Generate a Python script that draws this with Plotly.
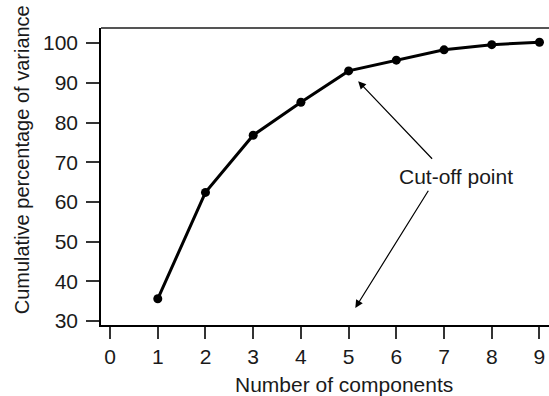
import plotly.graph_objects as go

components = [1, 2, 3, 4, 5, 6, 7, 8, 9]
cum_variance = [35.6, 62.4, 76.8, 85.1, 93.0, 95.7, 98.3, 99.6, 100.2]
x_ticks = [0, 1, 2, 3, 4, 5, 6, 7, 8, 9]
y_ticks = [30, 40, 50, 60, 70, 80, 90, 100]

FONT = "Liberation Sans, Arial, Helvetica, sans-serif"
FS = 21

fig = go.Figure()
fig.add_trace(go.Scatter(
    x=components, y=cum_variance, mode="lines+markers",
    line=dict(color="black", width=3),
    marker=dict(color="black", size=9),
    showlegend=False, hoverinfo="skip",
))

fig.update_layout(
    width=549, height=396,
    margin=dict(l=101, r=0, t=28, b=71),
    paper_bgcolor="white", plot_bgcolor="white",
    font=dict(family=FONT, size=FS, color="#1a1a1a"),
    xaxis=dict(
        range=[-0.19, 9.2], tickvals=x_ticks, ticks="outside", ticklen=12,
        tickwidth=1.5, tickcolor="#333", showline=True, linecolor="black",
        linewidth=1.5, showgrid=False, zeroline=False, fixedrange=True,
        tickfont=dict(size=FS), automargin=False,
    ),
    yaxis=dict(
        range=[29.0, 103.8], tickvals=y_ticks, ticks="outside", ticklen=13,
        tickwidth=1.5, tickcolor="#333", showline=True, linecolor="black",
        linewidth=1.5, showgrid=False, zeroline=False, fixedrange=True,
        tickfont=dict(size=FS), automargin=False, ticklabelstandoff=4,
    ),
    shapes=[dict(type="line", xref="paper", yref="paper", x0=0, x1=1, y0=1, y1=1,
                 line=dict(color="#555", width=2))],
)

annotations = [
    dict(text="Number of components", xref="x", yref="paper", x=4.91, y=-0.156,
         xanchor="center", yanchor="top", showarrow=False, font=dict(size=FS)),
    dict(text="Cumulative percentage of variance", xref="paper", yref="paper",
         x=-0.176, y=0.555, xanchor="center", yanchor="middle", textangle=-90,
         showarrow=False, font=dict(size=20)),
    dict(text="Cut-off point", xref="x", yref="y", x=7.26, y=66.5,
         xanchor="center", yanchor="middle", showarrow=False, font=dict(size=FS)),
    dict(text="", xref="x", yref="y", x=5.20, y=90.4, axref="x", ayref="y",
         ax=6.78, ay=70.5, showarrow=True, arrowhead=2, arrowsize=1.3,
         arrowwidth=1.2, arrowcolor="black", standoff=0, startstandoff=0),
    dict(text="", xref="x", yref="y", x=5.14, y=33.3, axref="x", ayref="y",
         ax=6.69, ay=63.2, showarrow=True, arrowhead=2, arrowsize=1.3,
         arrowwidth=1.2, arrowcolor="black", standoff=0, startstandoff=0),
]
fig.update_layout(annotations=annotations)

fig.write_html("out.html", config={"displayModeBar": False},
               post_script="document.body.style.margin='0';document.body.style.overflow='hidden';")
